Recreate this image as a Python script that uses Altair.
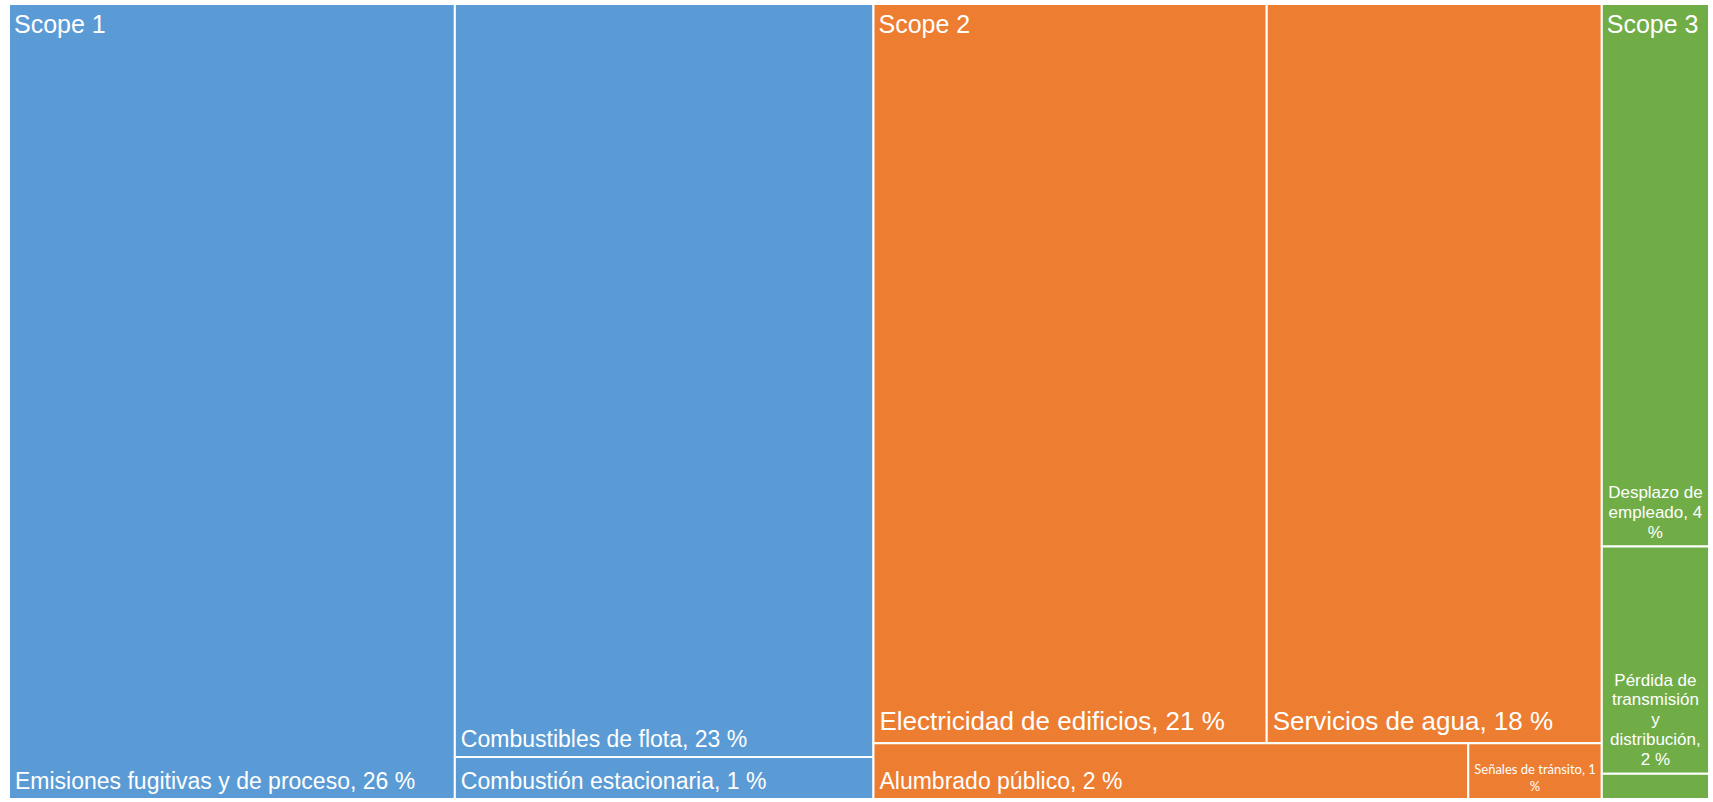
import textwrap
import altair as alt
import pandas as pd

# ---------------- data ----------------
scopes = ["Scope 1", "Scope 1", "Scope 1",
          "Scope 2", "Scope 2", "Scope 2", "Scope 2",
          "Scope 3", "Scope 3", "Scope 3"]
items = ["Emisiones fugitivas y de proceso", "Combustibles de flota", "Combustión estacionaria",
         "Electricidad de edificios", "Servicios de agua", "Alumbrado público", "Señales de tránsito",
         "Desplazo de empleado", "Pérdida de transmisión y distribución", ""]
shares = [26.2, 23.3, 1.3,
          21.49, 18.31, 2.45, 0.55,
          4.3, 1.8, 0.2]
# grouping of the items inside each scope (as laid out by the treemap)
groups = [0, 1, 1,
          0, 0, 1, 1,
          0, 1, 2]
scope_order = ["Scope 1", "Scope 2", "Scope 3"]
scope_split = {"Scope 1": "columns", "Scope 2": "rows", "Scope 3": "rows"}
scope_colors = ["#5B9BD5", "#ED7D31", "#70AD47"]

# ---------------- styling ----------------
PLOT_W, PLOT_H = 1700, 795
label_style = {
    "Electricidad de edificios": "big",
    "Servicios de agua": "big",
    "Señales de tránsito": "tiny",
    "Desplazo de empleado": "narrow",
    "Pérdida de transmisión y distribución": "narrow",
}
style_props = {
    "normal": dict(fontSize=23, align="left", dx=6, font="Liberation Sans", lineHeight=26),
    "big": dict(fontSize=26, align="left", dx=6, font="Liberation Sans", lineHeight=30),
    "narrow": dict(fontSize=17, align="center", dx=0, font="Liberation Sans", lineHeight=19.8),
    "tiny": dict(fontSize=13, align="center", dx=0, font="Lato", lineHeight=17),
}
bottom_pad = {"normal": 10, "big": 13, "narrow": 9, "tiny": 8}
char_w = {"normal": 0.5, "big": 0.5, "narrow": 0.5, "tiny": 0.46}

# ---------------- treemap layout computed from the values ----------------
total = sum(shares)
rows = []
scope_rows = []
sx = 0.0
for sc in scope_order:
    idx = [i for i, s in enumerate(scopes) if s == sc]
    stot = sum(shares[i] for i in idx)
    sw = stot / total
    scope_rows.append({"scope": sc, "x0": sx, "y0": 0.0})
    gids = sorted(set(groups[i] for i in idx))
    gpos = 0.0
    for g in gids:
        gi = [i for i in idx if groups[i] == g]
        gtot = sum(shares[i] for i in gi)
        gfrac = gtot / stot
        ipos = 0.0
        for i in gi:
            f = shares[i] / gtot
            if scope_split[sc] == "columns":
                x0 = sx + gpos * sw
                x1 = x0 + gfrac * sw
                y0 = ipos
                y1 = ipos + f
            else:
                y0 = gpos
                y1 = gpos + gfrac
                x0 = sx + ipos * sw
                x1 = x0 + f * sw
            ipos += f
            style = label_style.get(items[i], "normal")
            props = style_props[style]
            fs = props["fontSize"]
            text = f"{items[i]}, {round(shares[i])} %" if items[i] else ""
            if props["align"] == "center" and text:
                chars = int((x1 - x0) * PLOT_W / (fs * char_w[style]))
                text = "\n".join(textwrap.wrap(text, chars, break_long_words=False))
            n_lines = max(1, len(text.split("\n")))
            ty = y1 - ((n_lines - 1) * props["lineHeight"] + bottom_pad[style]) / PLOT_H
            rows.append({"scope": sc, "item": items[i], "share": shares[i],
                         "x0": x0, "x1": x1, "y0": y0, "y1": y1,
                         "xc": (x0 + x1) / 2, "ty": ty, "label": text, "style": style})
        gpos += gfrac
    sx += sw

df = pd.DataFrame(rows)
sdf = pd.DataFrame(scope_rows)

xs = alt.Scale(domain=[0, 1], nice=False, zero=False)
ys = alt.Scale(domain=[0, 1], nice=False, zero=False, reverse=True)

rects = alt.Chart(df).mark_rect(stroke="white", strokeWidth=2).encode(
    x=alt.X("x0:Q", scale=xs, axis=None),
    x2="x1:Q",
    y=alt.Y("y0:Q", scale=ys, axis=None),
    y2="y1:Q",
    color=alt.Color("scope:N", scale=alt.Scale(domain=scope_order, range=scope_colors), legend=None),
)

layers = [rects]
for st, props in style_props.items():
    xfield = "x0:Q" if props["align"] == "left" else "xc:Q"
    layers.append(
        alt.Chart(df).transform_filter(alt.datum.style == st).mark_text(
            color="white", lineBreak="\n", baseline="alphabetic", **props
        ).encode(
            x=alt.X(xfield, scale=xs, axis=None),
            y=alt.Y("ty:Q", scale=ys, axis=None),
            text="label:N",
        )
    )

scope_text = alt.Chart(sdf).mark_text(
    color="white", align="left", baseline="alphabetic", dx=5, dy=29,
    fontSize=25, font="Liberation Sans"
).encode(
    x=alt.X("x0:Q", scale=xs, axis=None),
    y=alt.Y("y0:Q", scale=ys, axis=None),
    text="scope:N",
)
layers.append(scope_text)

chart = alt.layer(*layers).properties(
    width=PLOT_W, height=PLOT_H,
    autosize=alt.AutoSizeParams(type="none"),
    padding={"left": 9, "top": 4, "right": 4, "bottom": 3},
    background="white",
).configure_view(stroke=None)

chart.save("out.html", embed_options={"renderer": "svg", "actions": False})
